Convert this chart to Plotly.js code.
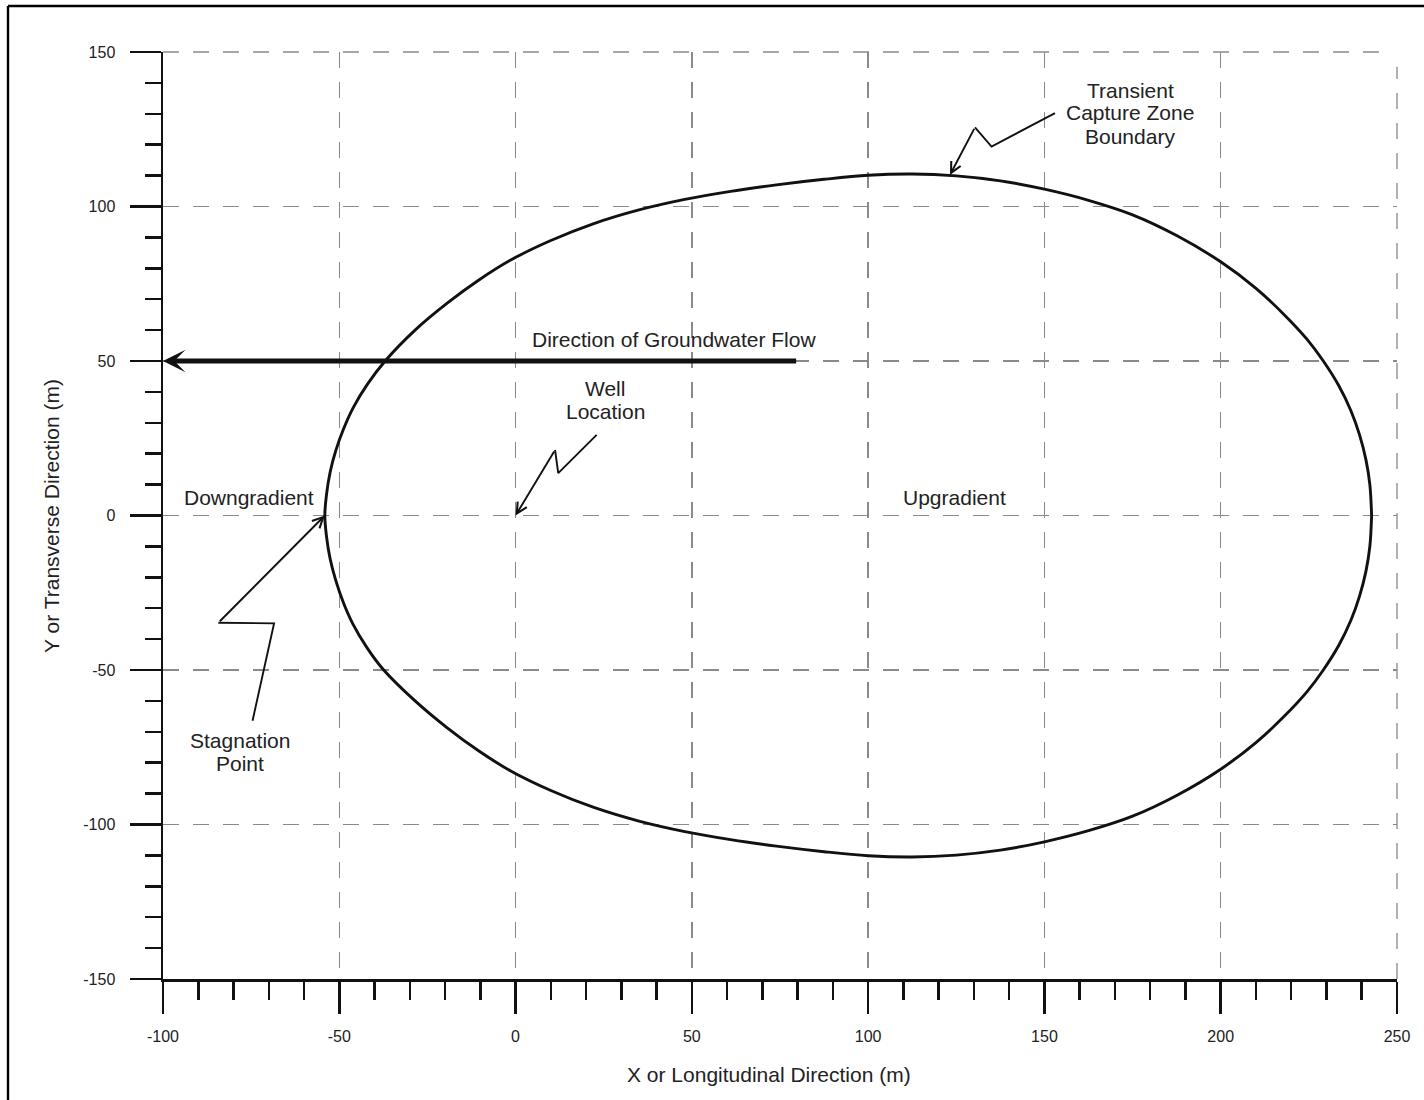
<!DOCTYPE html>
<html>
<head>
<meta charset="utf-8">
<script src="https://cdn.plot.ly/plotly-3.0.1.min.js"></script>
<style>
  html, body { margin: 0; padding: 0; background: #ffffff; }
  #chart { width: 1424px; height: 1100px; }
</style>
</head>
<body>
<div id="chart"></div>
<script>
// ---- Capture zone boundary, upper half left -> right
const upperX = [-54.1, -53.6, -52.6, -51.0, -48.8, -46.0, -42.0, -37.0, -28.5, -19.3, -10.3, -1.5, 10.0, 22.0, 35.0, 48.0, 61.0, 74.0, 87.5, 100.0, 112.5, 125.0, 137.5, 150.0, 162.5, 175.0, 187.5, 200.0, 210.0, 218.0, 224.5, 229.1, 233.5, 236.9, 239.4, 241.2, 242.3, 242.8];
const upperY = [0.0, 7.0, 14.0, 21.0, 28.0, 35.0, 42.5, 50.0, 60.0, 68.8, 76.3, 82.6, 89.0, 94.4, 98.9, 102.3, 104.9, 107.0, 108.8, 110.1, 110.5, 109.9, 108.3, 105.6, 102.0, 97.3, 90.6, 82.1, 73.5, 65.0, 57.0, 50.0, 42.0, 34.0, 26.0, 18.0, 10.0, 0.0];
// lower half right -> left
const lowerX = [242.8, 242.3, 241.2, 239.4, 236.9, 233.5, 229.1, 224.5, 218.0, 210.0, 200.0, 187.5, 175.0, 162.5, 150.0, 137.5, 125.0, 112.5, 100.0, 87.5, 74.0, 61.0, 48.0, 35.0, 22.0, 10.0, -1.5, -10.3, -19.3, -28.5, -37.4, -42.3, -46.2, -48.9, -51.0, -52.6, -53.6, -54.1];
const lowerY = [0.0, -10.0, -18.0, -26.0, -34.0, -42.0, -50.0, -57.0, -65.0, -73.5, -82.1, -90.6, -97.3, -102.0, -105.6, -108.3, -109.9, -110.5, -110.1, -108.8, -107.0, -104.9, -102.3, -98.9, -94.4, -89.0, -82.6, -76.3, -68.8, -60.0, -50.0, -42.5, -35.0, -28.0, -21.0, -14.0, -7.0, 0.0];

// ---- Axis ticks
const xTickVals = [-100, -50, 0, 50, 100, 150, 200, 250];
const xTickText = ['-100', '-50', '0', '50', '100', '150', '200', '250'];
const yTickVals = [-150, -100, -50, 0, 50, 100, 150];
const yTickText = ['-150', '-100', '-50', '0', '50', '100', '150'];

// ---- Flow arrow (tail -> tip) and leader lines (data units)
const flowArrowX = [80, -100];
const flowArrowY = [50, 50];
const captureLeaderX = [153.0, 135.0, 130.3, 123.2];
const captureLeaderY = [130.2, 119.4, 125.6, 110.2];
const wellLeaderX = [23.0, 12.1, 11.2, 0.0];
const wellLeaderY = [26.1, 13.7, 21.2, 0.0];
const stagLeaderX = [-74.6, -68.5, -84.3, -54.1];
const stagLeaderY = [-66.4, -34.9, -34.7, 0.0];

// ---- Labels
const labelLines = [
  {text: 'Direction of Groundwater Flow', x: 44.8, y: 56.8},
  {text: 'Well', x: 25.4, y: 41.2},
  {text: 'Location', x: 25.4, y: 33.8},
  {text: 'Downgradient', x: -75.5, y: 5.7},
  {text: 'Upgradient', x: 124.6, y: 5.7},
  {text: 'Stagnation', x: -78.2, y: -72.8},
  {text: 'Point', x: -78.2, y: -80.2},
  {text: 'Transient', x: 174.3, y: 137.7},
  {text: 'Capture Zone', x: 174.3, y: 130.4},
  {text: 'Boundary', x: 174.3, y: 122.8}
];

const FONT = 'Liberation Sans, Arial, Helvetica, sans-serif';
const INK = '#111111';
const TXT = '#222222';
const GRID = '#8a8a8a';

function leaderTrace(xs, ys) {
  return {
    x: xs.slice(0, xs.length - 1), y: ys.slice(0, ys.length - 1),
    type: 'scatter', mode: 'lines',
    line: {color: INK, width: 1.9},
    hoverinfo: 'skip', showlegend: false
  };
}
function leaderArrow(xs, ys) {
  const n = xs.length;
  return {
    x: xs[n - 1], y: ys[n - 1], ax: xs[n - 2], ay: ys[n - 2],
    xref: 'x', yref: 'y', axref: 'x', ayref: 'y',
    text: '', showarrow: true, arrowhead: 5, arrowsize: 1.1,
    arrowwidth: 1.9, arrowcolor: INK, standoff: 0, startstandoff: 0
  };
}

const traces = [
  {
    x: upperX.concat(lowerX), y: upperY.concat(lowerY),
    type: 'scatter', mode: 'lines',
    line: {color: INK, width: 2.9, shape: 'spline', smoothing: 1.0},
    hoverinfo: 'skip', showlegend: false
  },
  leaderTrace(captureLeaderX, captureLeaderY),
  leaderTrace(wellLeaderX, wellLeaderY),
  leaderTrace(stagLeaderX, stagLeaderY)
];

const annotations = [];
labelLines.forEach(function (l) {
  annotations.push({
    x: l.x, y: l.y, xref: 'x', yref: 'y', text: l.text, showarrow: false,
    xanchor: 'center', yanchor: 'middle',
    font: {family: FONT, size: 21, color: TXT}
  });
});
annotations.push({
  x: flowArrowX[1], y: flowArrowY[1], ax: flowArrowX[0], ay: flowArrowY[0],
  xref: 'x', yref: 'y', axref: 'x', ayref: 'y',
  text: '', showarrow: true, arrowhead: 3, arrowsize: 0.75,
  arrowwidth: 5, arrowcolor: INK, standoff: 0, startstandoff: 0
});
annotations.push(leaderArrow(captureLeaderX, captureLeaderY));
annotations.push(leaderArrow(wellLeaderX, wellLeaderY));
annotations.push(leaderArrow(stagLeaderX, stagLeaderY));
// axis titles
annotations.push({
  x: 0.4911, y: -0.1025, xref: 'paper', yref: 'paper',
  text: 'X or Longitudinal Direction (m)', showarrow: false,
  xanchor: 'center', yanchor: 'middle',
  font: {family: FONT, size: 21, color: TXT}
});
annotations.push({
  x: -0.0900, y: 0.4995, xref: 'paper', yref: 'paper',
  text: 'Y or Transverse Direction (m)', showarrow: false, textangle: -90,
  xanchor: 'center', yanchor: 'middle',
  font: {family: FONT, size: 21, color: TXT}
});

const gridStyle = {showgrid: true, gridcolor: GRID, gridwidth: 1.3, griddash: '16px,14px'};

const layout = {
  width: 1424, height: 1100,
  margin: {l: 163, r: 27, t: 52, b: 121, pad: 0},
  paper_bgcolor: '#ffffff', plot_bgcolor: '#ffffff',
  font: {family: FONT, size: 16, color: TXT},
  showlegend: false,
  xaxis: Object.assign({
    range: [-100, 250], fixedrange: true,
    tickmode: 'array', tickvals: xTickVals, ticktext: xTickText,
    ticks: 'outside', ticklen: 32, tickwidth: 2.5, tickcolor: INK,
    ticklabelstandoff: 9,
    showline: true, linecolor: INK, linewidth: 2.5, zeroline: false,
    tickfont: {family: FONT, size: 16, color: TXT},
    minor: {tickmode: 'linear', tick0: 0, dtick: 10, ticks: 'outside', ticklen: 18, tickwidth: 2.5, tickcolor: INK, showgrid: false}
  }, gridStyle),
  yaxis: Object.assign({
    range: [-150, 150], fixedrange: true,
    tickmode: 'array', tickvals: yTickVals, ticktext: yTickText,
    ticks: 'outside', ticklen: 31, tickwidth: 2.5, tickcolor: INK,
    ticklabelstandoff: 11,
    showline: true, linecolor: INK, linewidth: 2.5, zeroline: false,
    tickfont: {family: FONT, size: 16, color: TXT},
    minor: {tickmode: 'linear', tick0: 0, dtick: 10, ticks: 'outside', ticklen: 16, tickwidth: 2.5, tickcolor: INK, showgrid: false}
  }, gridStyle),
  annotations: annotations,
  shapes: [
    // edge grid lines that Plotly drops at the range ends (top y=150, right x=250)
    {type: 'line', xref: 'paper', yref: 'paper', x0: 0, x1: 0.988, y0: 1, y1: 1, line: {color: GRID, width: 1.3, dash: '16px,14px'}, layer: 'below'},
    {type: 'line', xref: 'paper', yref: 'paper', x0: 1, x1: 1, y0: 0, y1: 0.984, line: {color: GRID, width: 1.3, dash: '16px,14px'}, layer: 'below'},
    // page frame (top and left)
    {type: 'line', xref: 'paper', yref: 'paper', x0: -0.1256, x1: 1.03, y0: 1.0496, y1: 1.0496, line: {color: '#000', width: 2.4}},
    {type: 'line', xref: 'paper', yref: 'paper', x0: -0.1256, x1: -0.1256, y0: 1.0496, y1: -0.14, line: {color: '#000', width: 2.4}}
  ]
};

Plotly.newPlot('chart', traces, layout, {displayModeBar: false, staticPlot: true});
</script>
</body>
</html>
